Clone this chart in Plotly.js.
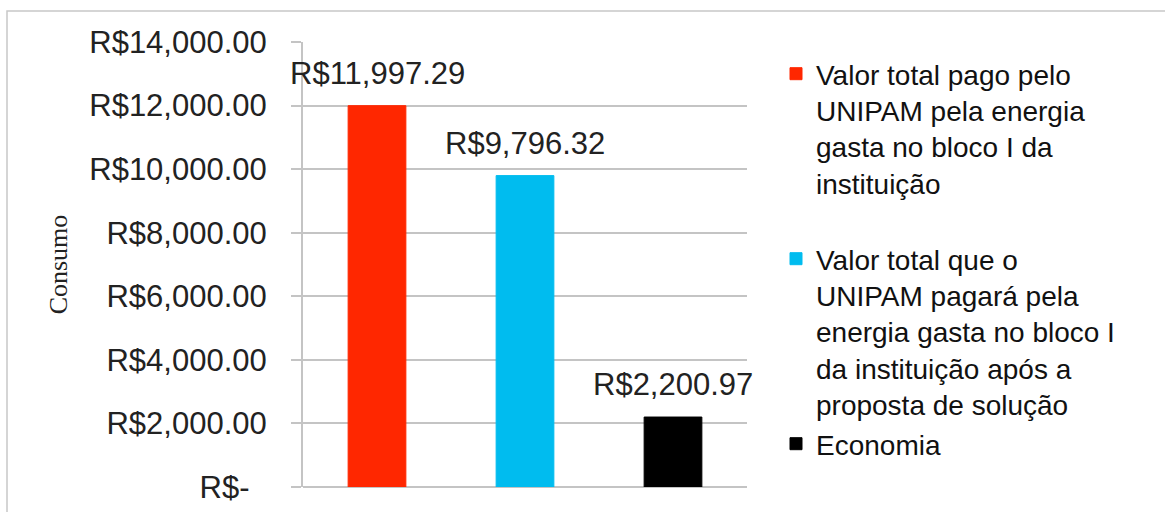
<!DOCTYPE html>
<html>
<head>
<meta charset="utf-8">
<script src="https://cdn.plot.ly/plotly-3.0.1.min.js"></script>
<style>
  html, body { margin: 0; padding: 0; background: #fff; }
  #chart { width: 1165px; height: 512px; }
</style>
</head>
<body>
<div id="chart"></div>
<script>
// ---- data ----
const seriesNames = [
  "Valor total pago pelo<br>UNIPAM pela energia<br>gasta no bloco I da<br>instituição<br>\u00A0",
  "Valor total que o<br>UNIPAM pagará pela<br>energia gasta no bloco I<br>da instituição após a<br>proposta de solução",
  "Economia"
];
const categories = ["Pago", "Após proposta", "Economia"];
const values = [11997.29, 9796.32, 2200.97];
const valueLabels = ["R$11,997.29", "R$9,796.32", "R$2,200.97"];
const colors = ["#FF2700", "#00BCEF", "#000000"];
const tickVals = [0, 2000, 4000, 6000, 8000, 10000, 12000, 14000];
const tickText = ["R$-\u00A0\u00A0", "R$2,000.00", "R$4,000.00", "R$6,000.00", "R$8,000.00", "R$10,000.00", "R$12,000.00", "R$14,000.00"];
const yTitle = "Consumo";

const FONT = "Liberation Sans, Arial, Helvetica, sans-serif";

const traces = values.map((v, i) => ({
  type: "bar",
  x: [categories[i]],
  y: [v],
  name: seriesNames[i],
  marker: { color: colors[i], line: { color: colors[i], width: 1 } },
  width: 0.39,
  hoverinfo: "skip"
}));

const annotations = values.map((v, i) => ({
  x: categories[i],
  y: v,
  xref: "x",
  yref: "y",
  text: valueLabels[i],
  showarrow: false,
  yanchor: "bottom",
  yshift: 13,
  font: { family: FONT, size: 31, color: "#222" }
}));

// outer frame
const L = 303, R = 747, T = 42, B = 487;
const px2x = p => (p - L) / (R - L);
const py2y = p => (B - p) / (B - T);
const shapes = [{
  type: "rect", xref: "paper", yref: "paper",
  x0: px2x(7), x1: px2x(1170), y0: py2y(520), y1: py2y(11),
  line: { color: "#c8c8c8", width: 1.5 }, fillcolor: "rgba(0,0,0,0)", layer: "below"
}];

const layout = {
  width: 1165, height: 512,
  margin: { l: L, r: 1165 - R, t: T, b: 512 - B },
  paper_bgcolor: "#fff", plot_bgcolor: "#fff",
  barmode: "overlay",
  showlegend: true,
  legend: {
    x: px2x(776), xanchor: "left",
    y: py2y(49), yanchor: "top",
    valign: "top",
    font: { family: FONT, size: 28, color: "#111" },
    tracegroupgap: 0,
    bgcolor: "rgba(0,0,0,0)"
  },
  xaxis: {
    type: "category",
    categoryorder: "array",
    categoryarray: categories,
    range: [-0.5, 2.5],
    showticklabels: false,
    showgrid: false,
    zeroline: false,
    showline: false,
    ticks: ""
  },
  yaxis: {
    range: [0, 14000],
    tickvals: tickVals,
    ticktext: tickText,
    showgrid: true,
    gridcolor: "#c4c4c4",
    gridwidth: 2,
    zeroline: true,
    zerolinecolor: "#c4c4c4",
    zerolinewidth: 2,
    showline: true,
    linecolor: "#c4c4c4",
    linewidth: 2,
    ticks: "outside",
    ticklen: 10,
    tickwidth: 2,
    tickcolor: "#c4c4c4",
    ticklabelstandoff: 18,
    tickfont: { family: FONT, size: 31, color: "#222" },
    title: { text: yTitle, font: { family: "Liberation Serif, Times New Roman, serif", size: 26, color: "#222" }, standoff: 14 },
    automargin: false
  },
  annotations: annotations,
  shapes: shapes
};

Plotly.newPlot("chart", traces, layout, { displayModeBar: false, staticPlot: true });
</script>
</body>
</html>
